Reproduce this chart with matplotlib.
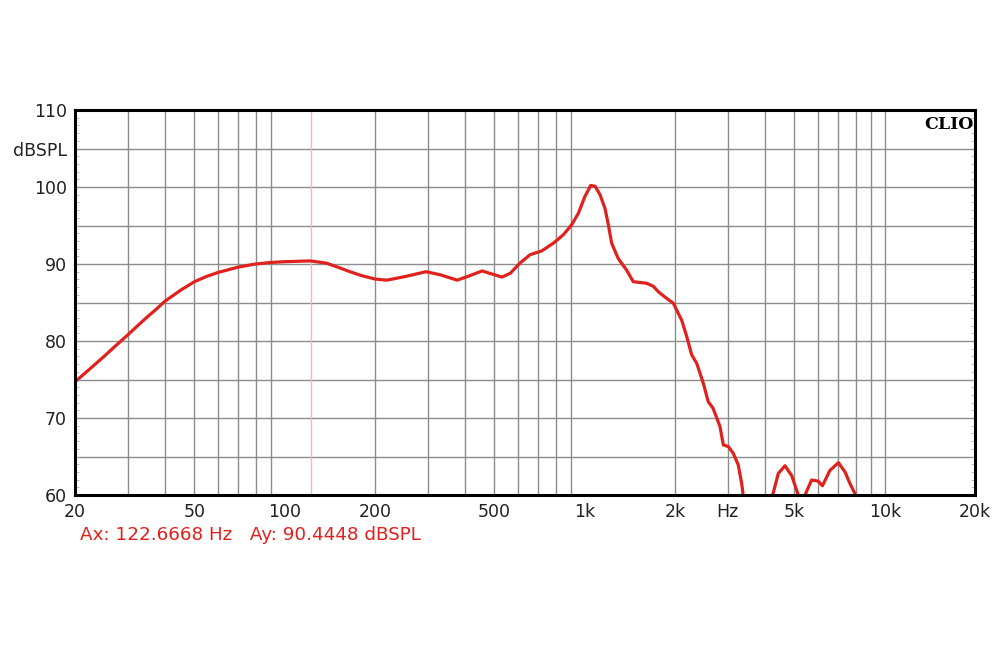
import numpy as np
import matplotlib
matplotlib.use("Agg")
import matplotlib.pyplot as plt
from matplotlib.ticker import FixedLocator, MultipleLocator, NullFormatter

plt.rcParams['font.family'] = ['DejaVu Sans']

# frequency response (Hz, dBSPL); NaN = curve below 60 dB
freq = [20, 22, 25, 27, 30, 33, 35, 37, 40, 45, 50, 55, 60, 70, 80, 90, 100,
        122, 138, 150, 165, 180, 200, 219, 254, 296, 330, 376, 415, 455, 500,
        530, 565, 608, 657, 719, 786, 849, 905, 953, 1000, 1047, 1083, 1125,
        1169, 1199, 1230, 1294, 1380, 1452, 1530, 1609, 1694, 1760, 1852,
        1975, 2105, 2188, 2273, 2363, 2486, 2582, 2676, 2825, 2898, 3011,
        3129, 3250, 3336, 3380,
        3400,
        4233, 4420, 4652, 4900, 5152,
        5300,
        5424, 5708, 6000, 6200, 6572, 7009, 7374, 7657, 8000]
spl = [74.7, 76.1, 78.0, 79.2, 80.8, 82.3, 83.2, 84.0, 85.2, 86.6, 87.7, 88.4,
       88.9, 89.6, 90.0, 90.2, 90.3,
       90.4, 90.1, 89.6, 89.0, 88.5, 88.05, 87.9, 88.4, 89.0, 88.6, 87.9,
       88.5, 89.1, 88.6,
       88.3, 88.8, 90.1, 91.2, 91.7, 92.7, 93.8, 95.1, 96.6, 98.7, 100.2,
       100.1, 99.0,
       97.2, 95.1, 92.7, 90.7, 89.2, 87.7, 87.6, 87.5, 87.1, 86.4, 85.7,
       84.9, 82.7, 80.6, 78.2, 77.1, 74.5, 72.1, 71.3, 68.9, 66.5, 66.3,
       65.4, 63.9, 61.5, 59.8,
       np.nan,
       60.0, 62.8, 63.8, 62.5, 60.0,
       np.nan,
       60.0, 61.95, 61.8, 61.2, 63.2, 64.2, 63.0, 61.5, 60.0]

cursor_f = 122.6668
cursor_db = 90.4448

x_ticks = [20, 50, 100, 200, 500, 1000, 2000, 3000, 5000, 10000, 20000]
x_labels = ['20', '50', '100', '200', '500', '1k', '2k', 'Hz', '5k', '10k', '20k']
y_ticks = [60, 70, 80, 90, 100, 105, 110]
y_labels = ['60', '70', '80', '90', '100', 'dBSPL', '110']

red = '#e0221e'

fig = plt.figure(figsize=(10, 6.5), dpi=100)
ax = fig.add_axes([0.075, 1 - 495 / 650, 0.9, 385 / 650])

ax.set_xscale('log')
ax.set_xlim(20, 20000)
ax.set_ylim(60, 110)

# grid: lines at 2..9 of each decade up to 10k, horizontal every 5 dB
vlines = [m * d for d in (10, 100, 1000) for m in range(2, 10)] + [10000]
for v in vlines:
    if v > 20:
        ax.axvline(v, color='#8c8c8c', lw=1.0, zorder=1)
for h in range(65, 110, 5):
    ax.axhline(h, color='#8c8c8c', lw=1.0, zorder=1)

ax.axvline(cursor_f, color='#f2b8b8', lw=1.0, zorder=1)

ax.plot(freq, spl, color=red, lw=2.3, zorder=3, solid_joinstyle='round')

for s in ax.spines.values():
    s.set_linewidth(2.2)
    s.set_color('black')
    s.set_zorder(4)

ax.xaxis.set_major_locator(FixedLocator(x_ticks))
ax.xaxis.set_minor_locator(FixedLocator([]))
ax.xaxis.set_minor_formatter(NullFormatter())
ax.set_xticklabels(x_labels)
ax.set_yticks(y_ticks)
ax.set_yticklabels(y_labels)
ax.yaxis.set_minor_locator(MultipleLocator(1))

ax.tick_params(axis='x', length=0, pad=6, labelsize=12.5, colors='#222222')
ax.tick_params(axis='y', which='major', length=0, pad=6, labelsize=12.5,
               colors='#222222')
ax.tick_params(axis='y', which='minor', direction='in', length=3,
               color='#b0b0b0', left=True, right=True)

ax.text(0.998, 0.985, 'CLIO', transform=ax.transAxes, ha='right', va='top',
        fontsize=12.5, fontweight='bold', family=['DejaVu Serif'])

fig.text(0.08, 1 - 535 / 650,
         'Ax: {0} Hz   Ay: {1} dBSPL'.format(cursor_f, cursor_db),
         color=red, fontsize=13.2, ha='left', va='center')

plt.savefig('out.png', dpi=100)
